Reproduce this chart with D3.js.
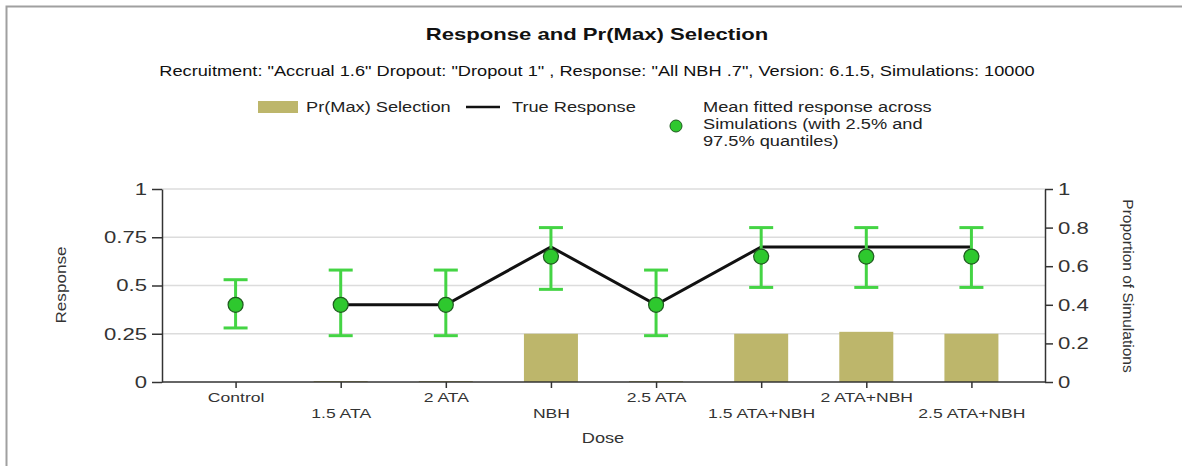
<!DOCTYPE html>
<html><head><meta charset="utf-8">
<script src="https://cdn.jsdelivr.net/npm/d3@7"></script>
<style>
html,body{margin:0;padding:0;background:#fff;}
svg{display:block;font-family:"Liberation Sans",Arial,sans-serif;}
</style></head>
<body>
<svg id="chart" width="1182" height="466"></svg>
<script>
const categories = ["Control","1.5 ATA","2 ATA","NBH","2.5 ATA","1.5 ATA+NBH","2 ATA+NBH","2.5 ATA+NBH"];
const prMaxSelection = [0, 0.005, 0.005, 0.25, 0.005, 0.25, 0.26, 0.25];
const trueResponse = [null, 0.4, 0.4, 0.7, 0.4, 0.7, 0.7, 0.7];
const meanFitted = [0.40, 0.40, 0.40, 0.65, 0.40, 0.65, 0.65, 0.65];
const lowerQuantile = [0.28, 0.24, 0.24, 0.48, 0.24, 0.49, 0.49, 0.49];
const upperQuantile = [0.53, 0.58, 0.58, 0.80, 0.58, 0.80, 0.80, 0.80];
const leftTicks = [0, 0.25, 0.5, 0.75, 1];
const rightTicks = [0, 0.2, 0.4, 0.6, 0.8, 1];

const svg = d3.select("#chart");
const L = 162, R = 1045, T = 189, B = 382;

// frame
svg.append("path").attr("d","M6.5,466 V6.5 H1182").attr("fill","none").attr("stroke","#a0a0a0").attr("stroke-width",2);

const x = d3.scalePoint().domain(categories).range([L,R]).padding(0.7);
const yL = d3.scaleLinear().domain([0,1]).range([B,T]);
const yR = d3.scaleLinear().domain([0,1]).range([B,T]);

// gridlines
svg.append("g").selectAll("line").data(leftTicks.slice(1)).join("line")
  .attr("x1",L).attr("x2",R).attr("y1",d=>yL(d)).attr("y2",d=>yL(d))
  .attr("stroke","#dcdcdc").attr("stroke-width",1.5);

// bars
const bw = 54;
svg.append("g").selectAll("rect").data(categories).join("rect")
  .attr("x",d=>x(d)-bw/2).attr("width",bw)
  .attr("y",(d,i)=>yR(prMaxSelection[i])).attr("height",(d,i)=>B-yR(prMaxSelection[i]))
  .attr("fill","#bdb66b");

// true response line
const lineGen = d3.line().defined(d=>d.v!==null).x(d=>x(d.c)).y(d=>yL(d.v));
svg.append("path").datum(categories.map((c,i)=>({c,v:trueResponse[i]})))
  .attr("d",lineGen).attr("fill","none").attr("stroke","#111").attr("stroke-width",3);

// error bars
const eb = svg.append("g").attr("stroke","#44d444").attr("stroke-width",3).attr("fill","none");
categories.forEach((c,i)=>{
  const cx = x(c);
  eb.append("line").attr("x1",cx).attr("x2",cx).attr("y1",yL(lowerQuantile[i])).attr("y2",yL(upperQuantile[i]));
  eb.append("line").attr("x1",cx-12).attr("x2",cx+12).attr("y1",yL(lowerQuantile[i])).attr("y2",yL(lowerQuantile[i]));
  eb.append("line").attr("x1",cx-12).attr("x2",cx+12).attr("y1",yL(upperQuantile[i])).attr("y2",yL(upperQuantile[i]));
});
svg.append("g").selectAll("circle").data(categories).join("circle")
  .attr("cx",d=>x(d)).attr("cy",(d,i)=>yL(meanFitted[i])).attr("r",7.5)
  .attr("fill","#2ec82e").attr("stroke","#1f5a1f").attr("stroke-width",1.2);

// axes
const axisStyle = g => { g.selectAll("path,line").attr("stroke","#333").attr("stroke-width",1.5);
  g.selectAll("text").attr("fill","#333").attr("font-size",17).attr("font-family","Liberation Sans, Arial, sans-serif").classed("hs",true); };
svg.append("g").attr("transform",`translate(${L},0)`)
  .call(d3.axisLeft(yL).tickValues(leftTicks).tickFormat(d3.format("~g")).tickSize(10).tickSizeOuter(0).tickPadding(5))
  .call(axisStyle);
svg.append("g").attr("transform",`translate(${R},0)`)
  .call(d3.axisRight(yR).tickValues(rightTicks).tickFormat(d3.format("~g")).tickSize(8).tickSizeOuter(0).tickPadding(5))
  .call(axisStyle);
const xa = svg.append("g").attr("transform",`translate(0,${B})`)
  .call(d3.axisBottom(x).tickSize(6).tickSizeOuter(0).tickPadding(4))
  .call(axisStyle);
xa.select(".domain").attr("d",`M${L},0H${R}`);
xa.selectAll("text").attr("font-size",13.5).attr("dy",(d,i)=> i%2 ? "1.95em" : "0.71em");

// axis titles
svg.append("text").attr("transform","translate(66,285) rotate(-90)").attr("text-anchor","middle")
  .attr("font-size",14.5).attr("fill","#333").attr("data-s",1.18).text("Response");
svg.append("text").attr("transform","translate(1123,286) rotate(90)").attr("text-anchor","middle")
  .attr("font-size",14.5).attr("fill","#333").attr("data-s",1.07).text("Proportion of Simulations");
svg.append("text").attr("x",603).attr("y",443).attr("text-anchor","middle").classed("hs",true)
  .attr("font-size",14).attr("fill","#333").text("Dose");

// titles
svg.append("text").attr("x",597).attr("y",40).attr("text-anchor","middle").classed("hs",true)
  .attr("font-size",17).attr("font-weight","bold").attr("fill","#111").text("Response and Pr(Max) Selection");
svg.append("text").attr("x",597).attr("y",76).attr("text-anchor","middle").classed("hs",true)
  .attr("font-size",14).attr("fill","#111")
  .text('Recruitment: "Accrual 1.6" Dropout: "Dropout 1" , Response: "All NBH .7", Version: 6.1.5, Simulations: 10000');

// legend
const lg = svg.append("g").attr("font-size",14).attr("fill","#222");
lg.append("rect").attr("x",258).attr("y",101).attr("width",40).attr("height",12).attr("fill","#bdb66b");
lg.append("text").attr("x",306).attr("y",112).classed("hs",true).text("Pr(Max) Selection");
lg.append("line").attr("x1",466).attr("x2",500).attr("y1",107).attr("y2",107).attr("stroke","#111").attr("stroke-width",2.5);
lg.append("text").attr("x",512).attr("y",112).classed("hs",true).text("True Response");
lg.append("circle").attr("cx",676).attr("cy",126).attr("r",6).attr("fill","#2ec82e").attr("stroke","#1f5a1f");
["Mean fitted response across","Simulations (with 2.5% and","97.5% quantiles)"].forEach((t,i)=>
  lg.append("text").attr("x",703).attr("y",112+i*17).classed("hs",true).text(t));

// the reference's text is drawn wider than the font's natural width
svg.selectAll("text").each(function(){
  const el = d3.select(this);
  const s = el.classed("hs") ? 1.3 : (+el.attr("data-s") || 1);
  if (s !== 1) {
    const w = this.getComputedTextLength();
    el.attr("textLength", w*s).attr("lengthAdjust","spacingAndGlyphs");
  }
});
</script>
</body></html>
